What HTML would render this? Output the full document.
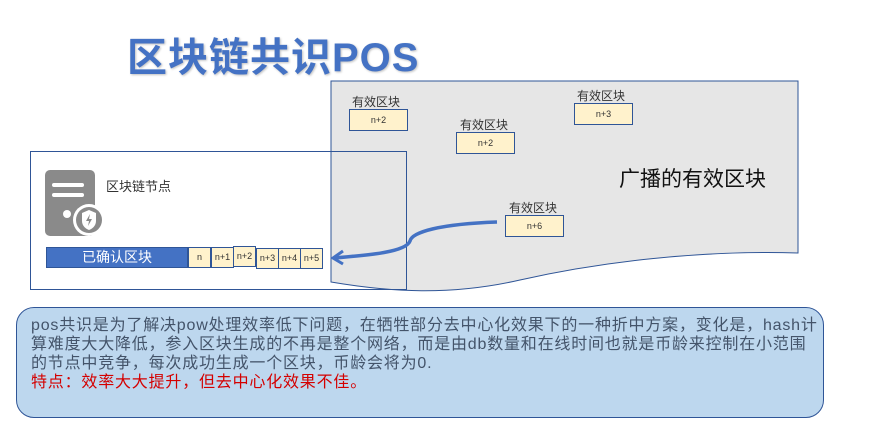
<!DOCTYPE html>
<html><head><meta charset="utf-8"><style>
body{margin:0;width:872px;height:437px;background:#fff;position:relative;overflow:hidden;font-family:"Liberation Sans","Noto Sans CJK SC",sans-serif}
.a{position:absolute}
.t{position:absolute;left:127px;top:25px;font-size:40px;font-weight:bold;color:#4472c4;text-shadow:1px 1px 2px rgba(0,0,0,.25);white-space:nowrap;letter-spacing:1px}
.b{position:absolute;background:#fff2cc;border:1px solid #2f5597;box-sizing:border-box;font-size:9px;color:#333;text-align:center}
.l{position:absolute;font-size:12px;color:#333;white-space:nowrap}
.p{position:absolute;left:16px;top:307px;width:808px;height:111px;box-sizing:border-box;background:#bdd7ee;border:1.5px solid #2f5597;border-radius:18px}
.tx{position:absolute;left:31px;top:316px;font-size:16px;line-height:19px;color:#44546a;white-space:nowrap;letter-spacing:0.8px}
</style></head><body>
<div class="t">区块链共识POS</div>
<svg class="a" style="left:0;top:0" width="872" height="437">
<path d="M331 81 L798 81 L798 253 C700 250 600 262 520 280 C450 296 390 292 331 282 Z" fill="#e6e6e6" stroke="#2f5597" stroke-width="1"/>
<rect x="30.5" y="151.5" width="376" height="138" fill="none" stroke="#2f5597" stroke-width="1"/>
<rect x="45" y="170" width="50" height="66" rx="5" fill="#8a8a8a"/>
<rect x="52" y="183" width="32" height="4" rx="2" fill="#fff"/>
<rect x="52" y="193" width="32" height="4" rx="2" fill="#fff"/>
<circle cx="67" cy="214" r="4" fill="#fff"/>
<circle cx="89" cy="220" r="16" fill="#fff"/>
<circle cx="89" cy="220" r="13" fill="#8a8a8a"/>
<path d="M82 213 L89 210 L96 213 L96 221 C96 226 92 229 89 230 C86 229 82 226 82 221 Z" fill="#fff"/>
<path d="M90 214 L86 221 L89 221 L88 226 L92 219 L89 219 Z" fill="#8a8a8a"/>
<path d="M497 222 C440 224 412 232 410 241 C406 252 370 255 334 258" fill="none" stroke="#4472c4" stroke-width="3.5"/>
<path d="M343 251 L333 258 L343 264" fill="none" stroke="#4472c4" stroke-width="3"/>
</svg>
<div class="l" style="left:106px;top:176px;font-size:13px">区块链节点</div>
<div class="a" style="left:46px;top:247px;width:142px;height:21px;background:#4472c4;border:1px solid #2f5597;box-sizing:border-box;color:#fff;font-size:14px;text-align:center;line-height:19px">已确认区块</div>
<div class="b" style="left:188px;top:247px;width:23px;height:21px;line-height:19px">n</div>
<div class="b" style="left:211px;top:247px;width:23px;height:21px;line-height:19px">n+1</div>
<div class="b" style="left:233px;top:246px;width:23px;height:21px;line-height:19px">n+2</div>
<div class="b" style="left:256px;top:248px;width:23px;height:21px;line-height:19px">n+3</div>
<div class="b" style="left:278px;top:248px;width:23px;height:21px;line-height:19px">n+4</div>
<div class="b" style="left:300px;top:248px;width:23px;height:21px;line-height:19px">n+5</div>
<div class="l" style="left:352px;top:93px">有效区块</div>
<div class="b" style="left:349px;top:109px;width:59px;height:22px;line-height:20px">n+2</div>
<div class="l" style="left:460px;top:116px">有效区块</div>
<div class="b" style="left:456px;top:132px;width:59px;height:22px;line-height:20px">n+2</div>
<div class="l" style="left:577px;top:87px">有效区块</div>
<div class="b" style="left:574px;top:103px;width:59px;height:22px;line-height:20px">n+3</div>
<div class="l" style="left:509px;top:199px">有效区块</div>
<div class="b" style="left:505px;top:215px;width:59px;height:22px;line-height:20px">n+6</div>
<div class="l" style="left:619px;top:163px;font-size:21px;color:#111">广播的有效区块</div>
<div class="p"></div>
<div class="tx">pos共识是为了解决pow处理效率低下问题，在牺牲部分去中心化效果下的一种折中方案，变化是，hash计<br>算难度大大降低，参入区块生成的不再是整个网络，而是由db数量和在线时间也就是币龄来控制在小范围<br>的节点中竞争，每次成功生成一个区块，币龄会将为0.<br><span style="color:#d40000">特点：效率大大提升，但去中心化效果不佳。</span></div>
</body></html>
